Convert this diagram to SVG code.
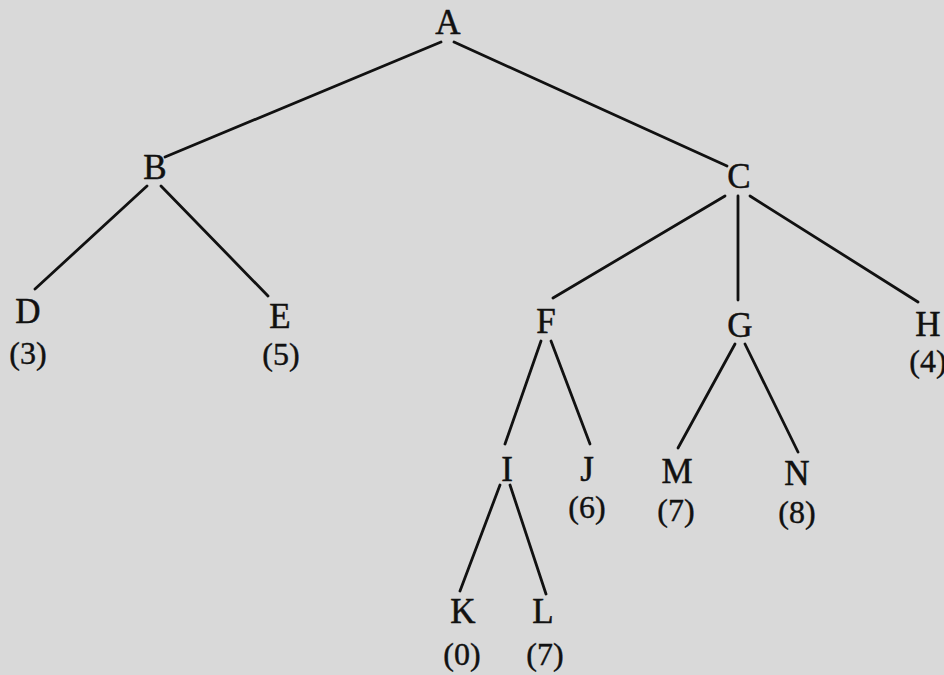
<svg xmlns="http://www.w3.org/2000/svg" width="944" height="675" viewBox="0 0 944 675">
  <style>
    .bg { fill: #d9d9d9; }
    .edge { stroke: #111; stroke-width: 2.8; stroke-linecap: round; fill: none; }
    .lbl { font-family: "Liberation Serif", "DejaVu Serif", serif; font-size: 35px; fill: #111; stroke: #111; stroke-width: 0.5; text-anchor: middle; }
    .val { font-family: "Liberation Serif", "DejaVu Serif", serif; font-size: 32px; fill: #111; stroke: #111; stroke-width: 0.4; text-anchor: middle; }
  </style>
  <rect class="bg" x="0" y="0" width="944" height="675"/>

  <!-- tree edges -->
  <g id="edges">
    <line class="edge" x1="441" y1="42" x2="165" y2="157"/>
    <line class="edge" x1="454" y1="42" x2="727" y2="166"/>
    <line class="edge" x1="147" y1="186" x2="35" y2="289"/>
    <line class="edge" x1="161" y1="186" x2="268" y2="296"/>
    <line class="edge" x1="725" y1="196" x2="553" y2="298"/>
    <line class="edge" x1="738" y1="196" x2="738" y2="300"/>
    <line class="edge" x1="750" y1="196" x2="918" y2="302"/>
    <line class="edge" x1="541" y1="341" x2="505" y2="444"/>
    <line class="edge" x1="551" y1="341" x2="590" y2="444"/>
    <line class="edge" x1="735" y1="344" x2="678" y2="448"/>
    <line class="edge" x1="745" y1="344" x2="798" y2="452"/>
    <line class="edge" x1="500" y1="485" x2="460" y2="591"/>
    <line class="edge" x1="510" y1="485" x2="546" y2="594"/>
  </g>

  <g id="node-A"><text class="lbl" x="448" y="34">A</text></g>
  <g id="node-B"><text class="lbl" x="155" y="179">B</text></g>
  <g id="node-C"><text class="lbl" x="739" y="188">C</text></g>
  <g id="node-D"><text class="lbl" x="28" y="323">D</text><text class="val" x="28" y="364">(3)</text></g>
  <g id="node-E"><text class="lbl" x="280" y="328">E</text><text class="val" x="281" y="365">(5)</text></g>
  <g id="node-F"><text class="lbl" x="546" y="333">F</text></g>
  <g id="node-G"><text class="lbl" x="740" y="337">G</text></g>
  <g id="node-H"><text class="lbl" x="928" y="336">H</text><text class="val" x="928" y="372">(4)</text></g>
  <g id="node-I"><text class="lbl" x="507" y="481">I</text></g>
  <g id="node-J"><text class="lbl" x="587" y="481">J</text><text class="val" x="587" y="518">(6)</text></g>
  <g id="node-M"><text class="lbl" x="677" y="483">M</text><text class="val" x="676" y="521">(7)</text></g>
  <g id="node-N"><text class="lbl" x="797" y="485">N</text><text class="val" x="797" y="523">(8)</text></g>
  <g id="node-K"><text class="lbl" x="463" y="623">K</text><text class="val" x="462" y="665">(0)</text></g>
  <g id="node-L"><text class="lbl" x="543" y="623">L</text><text class="val" x="545" y="665">(7)</text></g>
</svg>
